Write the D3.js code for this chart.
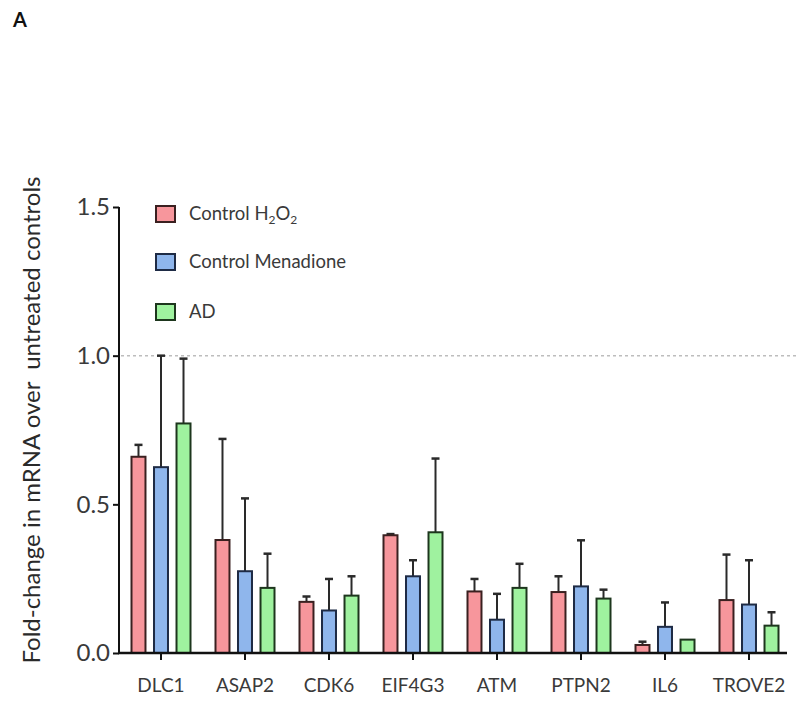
<!DOCTYPE html>
<html><head><meta charset="utf-8">
<script src="https://cdn.jsdelivr.net/npm/d3@7"></script>
<style>body{margin:0;background:#fff;}svg{display:block;}</style>
</head><body>
<svg id="chart" width="800" height="705"></svg>
<script>
const categories = ["DLC1","ASAP2","CDK6","EIF4G3","ATM","PTPN2","IL6","TROVE2"];
const seriesNames = ["Control H2O2","Control Menadione","AD"];
const h2o2Mean = [0.66, 0.38, 0.172, 0.396, 0.207, 0.205, 0.027, 0.178];
const h2o2SD   = [0.04, 0.34, 0.018, 0.004, 0.042, 0.053, 0.011, 0.153];
const menMean  = [0.625, 0.275, 0.143, 0.258, 0.112, 0.224, 0.088, 0.163];
const menSD    = [0.375, 0.245, 0.106, 0.054, 0.087, 0.155, 0.082, 0.149];
const adMean   = [0.772, 0.219, 0.193, 0.406, 0.219, 0.183, 0.045, 0.092];
const adSD     = [0.218, 0.115, 0.065, 0.248, 0.081, 0.030, 0.0, 0.045];
const yTicks = [0.0, 0.5, 1.0, 1.5];

const fills = ["#f7969c", "#8fb6ec", "#9ff29f"];
const strokes = ["#3a2020", "#1e2b45", "#1d361d"];

const means = [h2o2Mean, menMean, adMean];
const sds = [h2o2SD, menSD, adSD];

const svg = d3.select("#chart");
const font = "Lato, 'Open Sans', sans-serif";

const y = d3.scaleLinear().domain([0, 1.5]).range([653, 207]);
const x0 = d3.scaleBand().domain(categories).range([119, 791]).padding(0);
const x1 = d3.scaleBand().domain(d3.range(3)).range([11.5, 72.5]).paddingInner(0.29).paddingOuter(0);

// panel letter
svg.append("text").attr("x", 13).attr("y", 27).attr("font-family", font)
  .attr("font-weight", "bold").attr("font-size", 20).attr("fill", "#111").text("A");

// dashed reference line at 1.0
svg.append("line").attr("x1", 121).attr("x2", 798).attr("y1", y(1)).attr("y2", y(1))
  .attr("stroke", "#bdbdbd").attr("stroke-width", 1.5).attr("stroke-dasharray", "3,3");

// bars
const data = [];
categories.forEach((c, i) => {
  for (let s = 0; s < 3; s++) data.push({c, s, m: means[s][i], sd: sds[s][i]});
});

const g = svg.append("g");
g.selectAll("line.err").data(data.filter(d => d.sd > 0)).join("line")
  .attr("x1", d => x0(d.c) + x1(d.s) + x1.bandwidth()/2)
  .attr("x2", d => x0(d.c) + x1(d.s) + x1.bandwidth()/2)
  .attr("y1", d => y(d.m)).attr("y2", d => y(d.m + d.sd))
  .attr("stroke", "#2a2a2a").attr("stroke-width", 2);
g.selectAll("line.cap").data(data.filter(d => d.sd > 0)).join("line")
  .attr("x1", d => x0(d.c) + x1(d.s) + x1.bandwidth()/2 - 4)
  .attr("x2", d => x0(d.c) + x1(d.s) + x1.bandwidth()/2 + 4)
  .attr("y1", d => y(d.m + d.sd)).attr("y2", d => y(d.m + d.sd))
  .attr("stroke", "#2a2a2a").attr("stroke-width", 2.5);

g.selectAll("rect.bar").data(data).join("rect")
  .attr("x", d => x0(d.c) + x1(d.s) + 1)
  .attr("width", x1.bandwidth() - 2)
  .attr("y", d => y(d.m))
  .attr("height", d => y(0) - y(d.m))
  .attr("fill", d => fills[d.s])
  .attr("stroke", d => strokes[d.s]).attr("stroke-width", 2);

// y axis
const yAxis = svg.append("g").attr("transform", "translate(119,0)")
  .call(d3.axisLeft(y).tickValues(yTicks).tickFormat(d3.format(".1f")).tickSize(6).tickPadding(3));
yAxis.select(".domain").attr("stroke", "#111").attr("stroke-width", 2).attr("d", `M0,${y(1.5)}V${y(0)}`);
yAxis.selectAll(".tick line").attr("stroke", "#111").attr("stroke-width", 2);
yAxis.selectAll(".tick text").attr("font-family", font).attr("font-size", 24).attr("fill", "#3a3a3a");

// x axis
const xAxis = svg.append("g").attr("transform", `translate(0,${y(0)})`)
  .call(d3.axisBottom(x0).tickSize(7).tickPadding(19));
xAxis.select(".domain").attr("stroke", "#111").attr("stroke-width", 2.5).attr("d", `M118,0H787`);
xAxis.selectAll(".tick line").attr("stroke", "#111").attr("stroke-width", 2);
xAxis.selectAll(".tick text").attr("font-family", font).attr("font-size", 19).attr("fill", "#3a3a3a");

// y label
svg.append("text").attr("transform", "translate(40,420) rotate(-90)")
  .attr("text-anchor", "middle").attr("font-family", font).attr("font-size", 24)
  .attr("fill", "#2a2a2a").attr("xml:space", "preserve")
  .text("Fold-change in mRNA over  untreated controls");

// legend
const legY = [206, 254, 304];
seriesNames.forEach((n, i) => {
  svg.append("rect").attr("x", 156).attr("y", legY[i]).attr("width", 19).attr("height", 16)
    .attr("fill", fills[i]).attr("stroke", strokes[i]).attr("stroke-width", 2);
  const t = svg.append("text").attr("x", 189).attr("y", legY[i] + 14)
    .attr("font-family", font).attr("font-size", 18.5).attr("fill", "#3a3a3a");
  if (i === 0) {
    t.append("tspan").text("Control H");
    t.append("tspan").attr("font-size", 12).attr("dy", 4).text("2");
    t.append("tspan").attr("dy", -4).text("O");
    t.append("tspan").attr("font-size", 12).attr("dy", 4).text("2");
  } else {
    t.text(n);
  }
});
</script>
</body></html>
